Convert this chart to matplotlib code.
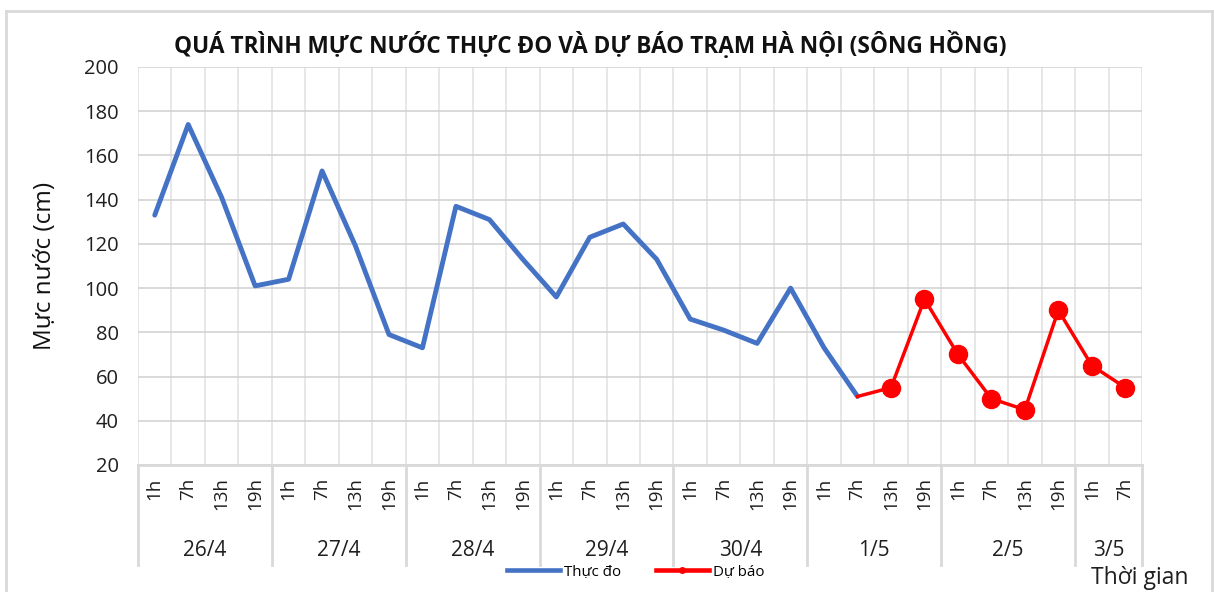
import numpy as np
import matplotlib
matplotlib.use("Agg")
import matplotlib.pyplot as plt
from matplotlib.lines import Line2D
from matplotlib.transforms import blended_transform_factory

plt.rcParams['font.family'] = ['Open Sans', 'DejaVu Sans']

# du lieu
days = ['26/4', '27/4', '28/4', '29/4', '30/4', '1/5', '2/5', '3/5']
hours = ['1h', '7h', '13h', '19h'] * 7 + ['1h', '7h']
thuc_do = [133, 174, 141, 101, 104, 153, 119, 79, 73, 137, 131, 113,
           96, 123, 129, 113, 86, 81, 75, 100, 73, 51]
du_bao = [51, 55, 95, 70, 50, 45, 90, 65, 55]
du_bao_start = 21
day_sizes = [4, 4, 4, 4, 4, 4, 4, 2]

W, H = 1214, 592
fig = plt.figure(figsize=(W / 100, H / 100), dpi=100)
ax = fig.add_axes([138 / W, 1 - 465 / H, (1142 - 138) / W, (465 - 67) / H])

x_td = np.arange(len(thuc_do))
x_db = np.arange(du_bao_start, du_bao_start + len(du_bao))

ax.plot(x_td, thuc_do, color='#4472C4', lw=3.5, solid_capstyle='round', zorder=3)
ax.plot(x_db, du_bao, color='#FF0000', lw=2.5, zorder=4)
ax.plot(x_db[1:], du_bao[1:], 'o', color='#FF0000', ms=13, zorder=5)

ax.set_xlim(-0.5, len(hours) - 0.5)
ax.set_ylim(20, 200)
ax.set_yticks(np.arange(20, 201, 20))
ax.set_xticks(np.arange(len(hours)))
ax.set_xticklabels(hours, rotation=90, fontsize=13.5, color='#1f1f1f')
ax.set_xticks(np.arange(-0.5, len(hours), 0.5), minor=True)
ax.tick_params(axis='both', which='both', length=0)
ax.tick_params(axis='x', pad=9)
ax.tick_params(axis='y', labelsize=14.5, pad=14, colors='#1f1f1f')
ax.grid(axis='y', color='#d0d0d0', lw=1.1)
ax.grid(axis='x', which='minor', color='#e0e0e0', lw=1.1)
for s in ['top', 'right', 'left']:
    ax.spines[s].set_visible(False)
ax.spines['bottom'].set_color('#d9d9d9')
ax.spines['bottom'].set_linewidth(2)

# nhom ngay
tr = blended_transform_factory(ax.transData, ax.transAxes)
b = -0.5
ax.plot([b, b], [0, -0.251], transform=tr, color='#d9d9d9', lw=2, clip_on=False)
for d, n in zip(days, day_sizes):
    ax.text(b + n / 2, -0.2136, d, transform=tr, ha='center', va='center',
            fontsize=15, color='#1f1f1f')
    b += n
    ax.plot([b, b], [0, -0.251], transform=tr, color='#d9d9d9', lw=2, clip_on=False)

ax.set_ylabel('Mực nước (cm)', fontsize=17.5, color='#111111')
ax.yaxis.set_label_coords(-0.081, 0.5)

fig.text(590 / W, 1 - 45 / H, 'QUÁ TRÌNH MỰC NƯỚC THỰC ĐO VÀ DỰ BÁO TRẠM HÀ NỘI (SÔNG HỒNG)',
         ha='center', va='center', fontsize=16.3, fontweight='bold', color='#111111')
fig.text(1140 / W, 1 - 578 / H, 'Thời gian', ha='center', va='center', fontsize=16.5,
         color='#1f1f1f')

handles = [Line2D([], [], color='#4472C4', lw=3.3),
           Line2D([], [], color='#FF0000', lw=3.3, marker='o', ms=4)]
fig.legend(handles, ['Thực đo', 'Dự báo'], loc='center', ncol=2,
           bbox_to_anchor=(636 / W, 1 - 572 / H), frameon=False, fontsize=10.8,
           handlelength=3.5, handletextpad=0.3, columnspacing=2.3)

# khung
fc = '#d9d9d9'
fig.add_artist(Line2D([6 / W, 6 / W], [0, 1 - 11 / H], color=fc, lw=2))
fig.add_artist(Line2D([6 / W, 1213 / W], [1 - 11 / H, 1 - 11 / H], color=fc, lw=2))
fig.add_artist(Line2D([1212 / W, 1212 / W], [0, 1 - 11 / H], color=fc, lw=2))

fig.savefig('out.png', dpi=100)
